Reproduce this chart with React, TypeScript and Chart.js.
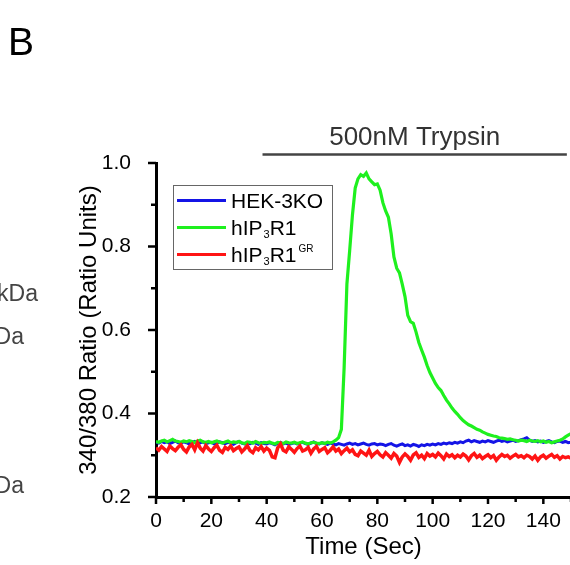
import React, { useEffect, useRef } from "react";
import { Chart, registerables } from "chart.js";

Chart.register(...registerables);

const TIME_SEC = [
  0, 1, 2, 3, 4, 5, 6, 7, 8, 9, 10, 11, 12, 13, 14, 15, 16, 17, 18, 19,
  20, 21, 22, 23, 24, 25, 26, 27, 28, 29, 30, 31, 32, 33, 34, 35, 36, 37, 38, 39,
  40, 41, 42, 43, 44, 45, 46, 47, 48, 49, 50, 51, 52, 53, 54, 55, 56, 57, 58, 59,
  60, 61, 62, 63, 64, 65, 66, 67, 68, 69, 70, 71, 72, 73, 74, 75, 76, 77, 78, 79,
  80, 81, 82, 83, 84, 85, 86, 87, 88, 89, 90, 91, 92, 93, 94, 95, 96, 97, 98, 99,
  100, 101, 102, 103, 104, 105, 106, 107, 108, 109, 110, 111, 112, 113, 114, 115, 116, 117, 118, 119,
  120, 121, 122, 123, 124, 125, 126, 127, 128, 129, 130, 131, 132, 133, 134, 135, 136, 137, 138, 139,
  140, 141, 142, 143, 144, 145, 146, 147, 148, 149, 150,
];

const HEK_3KO = [
  0.331, 0.329, 0.333, 0.330, 0.332, 0.328, 0.331, 0.334, 0.330, 0.329,
  0.332, 0.330, 0.327, 0.331, 0.333, 0.329, 0.330, 0.332, 0.328, 0.330,
  0.331, 0.327, 0.329, 0.332, 0.330, 0.328, 0.331, 0.329, 0.326, 0.330,
  0.333, 0.329, 0.327, 0.330, 0.328, 0.331, 0.329, 0.326, 0.330, 0.328,
  0.327, 0.330, 0.328, 0.325, 0.329, 0.331, 0.327, 0.329, 0.326, 0.328,
  0.330, 0.327, 0.329, 0.331, 0.328, 0.326, 0.329, 0.332, 0.328, 0.327,
  0.330, 0.328, 0.326, 0.329, 0.327, 0.325, 0.328, 0.326, 0.324, 0.327,
  0.329, 0.326, 0.328, 0.325, 0.327, 0.329, 0.326, 0.324, 0.327, 0.328,
  0.325, 0.327, 0.326, 0.323, 0.326, 0.328, 0.324, 0.322, 0.325, 0.327,
  0.323, 0.325, 0.322, 0.326, 0.324, 0.321, 0.325, 0.323, 0.326, 0.324,
  0.327, 0.325, 0.328, 0.326, 0.329, 0.327, 0.330, 0.328, 0.331, 0.329,
  0.332, 0.330, 0.334, 0.336, 0.332, 0.335, 0.333, 0.331, 0.334, 0.332,
  0.335, 0.333, 0.331, 0.334, 0.336, 0.333, 0.335, 0.332, 0.334, 0.336,
  0.333, 0.335, 0.337, 0.339, 0.342, 0.336, 0.333, 0.335, 0.332, 0.334,
  0.331, 0.333, 0.335, 0.332, 0.330, 0.333, 0.334, 0.331, 0.333, 0.330,
  0.331,
];

const HIP3R1 = [
  0.333, 0.331, 0.334, 0.336, 0.332, 0.335, 0.338, 0.334, 0.333, 0.331,
  0.334, 0.332, 0.335, 0.333, 0.330, 0.334, 0.336, 0.332, 0.331, 0.333,
  0.330, 0.332, 0.334, 0.331, 0.329, 0.332, 0.334, 0.330, 0.332, 0.331,
  0.333, 0.330, 0.328, 0.332, 0.331, 0.329, 0.333, 0.330, 0.328, 0.331,
  0.330, 0.332, 0.329, 0.327, 0.331, 0.330, 0.328, 0.332, 0.330, 0.329,
  0.331, 0.328, 0.330, 0.332, 0.329, 0.327, 0.330, 0.331, 0.329, 0.328,
  0.330, 0.328, 0.331, 0.329, 0.332, 0.336, 0.342, 0.362, 0.510, 0.710,
  0.790, 0.875, 0.940, 0.962, 0.972, 0.968, 0.976, 0.962, 0.955, 0.948,
  0.950, 0.935, 0.905, 0.885, 0.870, 0.830, 0.775, 0.748, 0.737, 0.710,
  0.680, 0.635, 0.620, 0.616, 0.595, 0.570, 0.552, 0.535, 0.515, 0.498,
  0.485, 0.472, 0.462, 0.455, 0.443, 0.432, 0.423, 0.413, 0.405, 0.398,
  0.390, 0.383, 0.378, 0.373, 0.370, 0.366, 0.362, 0.360, 0.356, 0.353,
  0.350, 0.348, 0.346, 0.345, 0.342, 0.341, 0.340, 0.338, 0.339, 0.337,
  0.336, 0.334, 0.336, 0.335, 0.333, 0.336, 0.334, 0.333, 0.335, 0.332,
  0.334, 0.331, 0.333, 0.330, 0.332, 0.334, 0.336, 0.339, 0.344, 0.348,
  0.352,
];

const HIP3R1_GR = [
  0.318, 0.312, 0.321, 0.315, 0.309, 0.322, 0.316, 0.311, 0.319, 0.325,
  0.314, 0.308, 0.320, 0.326, 0.313, 0.330, 0.317, 0.310, 0.323, 0.315,
  0.309, 0.318, 0.324, 0.312, 0.307, 0.319, 0.314, 0.322, 0.311, 0.316,
  0.320, 0.308, 0.315, 0.323, 0.311, 0.306, 0.318, 0.313, 0.321, 0.310,
  0.317, 0.312, 0.296, 0.294, 0.318, 0.327, 0.312, 0.308, 0.320, 0.314,
  0.307, 0.316, 0.322, 0.310, 0.313, 0.319, 0.305, 0.315, 0.321, 0.309,
  0.314, 0.318, 0.306, 0.312, 0.320, 0.310, 0.315, 0.304, 0.311, 0.317,
  0.308, 0.313, 0.302, 0.299, 0.310, 0.305, 0.300, 0.312, 0.297, 0.304,
  0.309, 0.301, 0.296, 0.306, 0.300, 0.293, 0.304, 0.298, 0.283, 0.296,
  0.303, 0.297, 0.288, 0.301, 0.306, 0.295, 0.300, 0.292, 0.304, 0.298,
  0.302, 0.296, 0.305, 0.299, 0.291, 0.303, 0.297, 0.301, 0.294, 0.300,
  0.296, 0.303, 0.298, 0.289, 0.299, 0.304, 0.295, 0.300, 0.292, 0.297,
  0.301, 0.294, 0.299, 0.288, 0.296, 0.302, 0.297, 0.300, 0.293, 0.298,
  0.302, 0.296, 0.299, 0.294, 0.300, 0.297, 0.291, 0.298, 0.288, 0.296,
  0.300, 0.293, 0.298, 0.302, 0.295, 0.299, 0.291, 0.297, 0.294, 0.296,
  0.293,
];

const Y_TICKS = [0.2, 0.3, 0.4, 0.5, 0.6, 0.7, 0.8, 0.9, 1.0];
const X_TICKS = [0, 10, 20, 30, 40, 50, 60, 70, 80, 90, 100, 110, 120, 130, 140, 150];
const TRYPSIN_START = 38.5;
const TRYPSIN_END = 148.5;
const TRYPSIN_LABEL = "500nM Trypsin";
const PANEL_LABEL = "B";
const SIDE_LABELS = ["kDa", "Da", "Da"];

const FONT = "'Liberation Sans', Arial, Helvetica, sans-serif";
const BLUE = "#1414e6";
const GREEN = "#1ef01e";
const RED = "#ff1414";

const toPts = (vals: number[]) => vals.map((v, i) => ({ x: TIME_SEC[i], y: v }));

const decorPlugin = {
  id: "decor",
  afterDraw(chart: any) {
    const ctx = chart.ctx as CanvasRenderingContext2D;
    const xs = chart.scales.x;
    const ys = chart.scales.y;
    const area = chart.chartArea;
    ctx.save();

    // axis ticks (major + minor)
    ctx.strokeStyle = "#000";
    ctx.lineWidth = 2.5;
    Y_TICKS.forEach((v) => {
      const major = Math.round(v * 10) % 2 === 0;
      const y = ys.getPixelForValue(v);
      ctx.beginPath();
      ctx.moveTo(area.left, y);
      ctx.lineTo(area.left - (major ? 8 : 5), y);
      ctx.stroke();
    });
    X_TICKS.forEach((v) => {
      const major = v % 20 === 0;
      const x = xs.getPixelForValue(v);
      ctx.beginPath();
      ctx.moveTo(x, area.bottom);
      ctx.lineTo(x, area.bottom + (major ? 7 : 5));
      ctx.stroke();
    });

    // trypsin bar
    const bx0 = xs.getPixelForValue(TRYPSIN_START);
    const bx1 = xs.getPixelForValue(TRYPSIN_END);
    ctx.strokeStyle = "#444";
    ctx.lineWidth = 2.5;
    ctx.beginPath();
    ctx.moveTo(bx0, 154.5);
    ctx.lineTo(bx1, 154.5);
    ctx.stroke();
    ctx.fillStyle = "#333";
    ctx.font = `26px ${FONT}`;
    ctx.textAlign = "center";
    ctx.textBaseline = "alphabetic";
    ctx.fillText(TRYPSIN_LABEL, (bx0 + bx1) / 2, 145);

    // panel label
    ctx.fillStyle = "#000";
    ctx.font = `39px ${FONT}`;
    ctx.textAlign = "left";
    ctx.fillText(PANEL_LABEL, 8, 55);

    // partial labels from neighbouring panel
    ctx.fillStyle = "#444";
    ctx.font = `23px ${FONT}`;
    ctx.textAlign = "right";
    ctx.fillText(SIDE_LABELS[0], 38, 301);
    ctx.fillText(SIDE_LABELS[1], 24, 344);
    ctx.fillText(SIDE_LABELS[2], 24, 493);

    // legend
    ctx.strokeStyle = "#666";
    ctx.lineWidth = 1;
    ctx.strokeRect(173.5, 185.5, 159, 84);
    const items = [
      { color: BLUE, parts: [["HEK-3KO", 0]] },
      { color: GREEN, parts: [["hIP", 0], ["3", 1], ["R1", 0]] },
      { color: RED, parts: [["hIP", 0], ["3", 1], ["R1", 0], ["GR", 2]] },
    ];
    items.forEach((it, i) => {
      const y = 200.5 + i * 27;
      ctx.strokeStyle = it.color;
      ctx.lineWidth = 3;
      ctx.beginPath();
      ctx.moveTo(177, y);
      ctx.lineTo(226, y);
      ctx.stroke();
      let x = 231;
      ctx.textAlign = "left";
      ctx.textBaseline = "alphabetic";
      ctx.fillStyle = "#000";
      (it.parts as any[]).forEach(([txt, kind]) => {
        if (kind === 0) {
          ctx.font = `21px ${FONT}`;
          ctx.fillText(txt, x, y + 7.5);
        } else if (kind === 1) {
          ctx.font = `11px ${FONT}`;
          ctx.fillText(txt, x + 1, y + 10.5);
        } else {
          ctx.font = `10px ${FONT}`;
          ctx.fillText(txt, x + 2, y - 3);
        }
        x += ctx.measureText(txt).width + (kind === 1 ? 1 : 0);
      });
    });
    ctx.restore();
  },
};

export default function App() {
  const ref = useRef<HTMLCanvasElement | null>(null);
  useEffect(() => {
    if (!ref.current) return;
    const chart = new Chart(ref.current, {
      type: "line",
      data: {
        datasets: [
          { label: "HEK-3KO", data: toPts(HEK_3KO), borderColor: BLUE, borderWidth: 3, pointRadius: 0, order: 2 },
          { label: "hIP3R1", data: toPts(HIP3R1), borderColor: GREEN, borderWidth: 3.2, pointRadius: 0, order: 1 },
          { label: "hIP3R1GR", data: toPts(HIP3R1_GR), borderColor: RED, borderWidth: 3.5, pointRadius: 0, order: 0 },
        ],
      },
      options: {
        animation: false,
        responsive: false,
        devicePixelRatio: 1,
        layout: { padding: { left: 0, right: 29, top: 163, bottom: 0 } },
        plugins: { legend: { display: false }, tooltip: { enabled: false } },
        scales: {
          x: {
            type: "linear",
            min: 0,
            max: 150,
            afterFit: (s: any) => { s.height = 68; },
            grid: { display: false },
            border: { display: true, color: "#000", width: 3 },
            ticks: {
              stepSize: 20,
              includeBounds: false,
              padding: 4,
              color: "#000",
              font: { family: FONT, size: 21 },
              maxRotation: 0,
            },
            title: {
              display: true,
              text: "Time (Sec)",
              color: "#000",
              font: { family: FONT, size: 24 },
              padding: { top: 0, bottom: 3 },
            },
          },
          y: {
            type: "linear",
            min: 0.2,
            max: 1.0,
            afterFit: (s: any) => { s.width = 156; },
            grid: { display: false },
            border: { display: true, color: "#000", width: 3 },
            ticks: {
              stepSize: 0.2,
              padding: 17,
              color: "#000",
              font: { family: FONT, size: 21 },
              callback: (v: any) => Number(v).toFixed(1),
            },
            title: {
              display: true,
              text: "340/380 Ratio (Ratio Units)",
              color: "#000",
              font: { family: FONT, size: 24 },
              padding: { top: 75, bottom: 0 },
            },
          },
        },
      },
      plugins: [decorPlugin],
    });
    return () => chart.destroy();
  }, []);
  return (
    <div style={{ position: "fixed", left: 0, top: 0, width: 570, height: 565, overflow: "hidden", background: "#fff" }}>
      <canvas ref={ref} width={600} height={565} style={{ display: "block" }} />
    </div>
  );
}
